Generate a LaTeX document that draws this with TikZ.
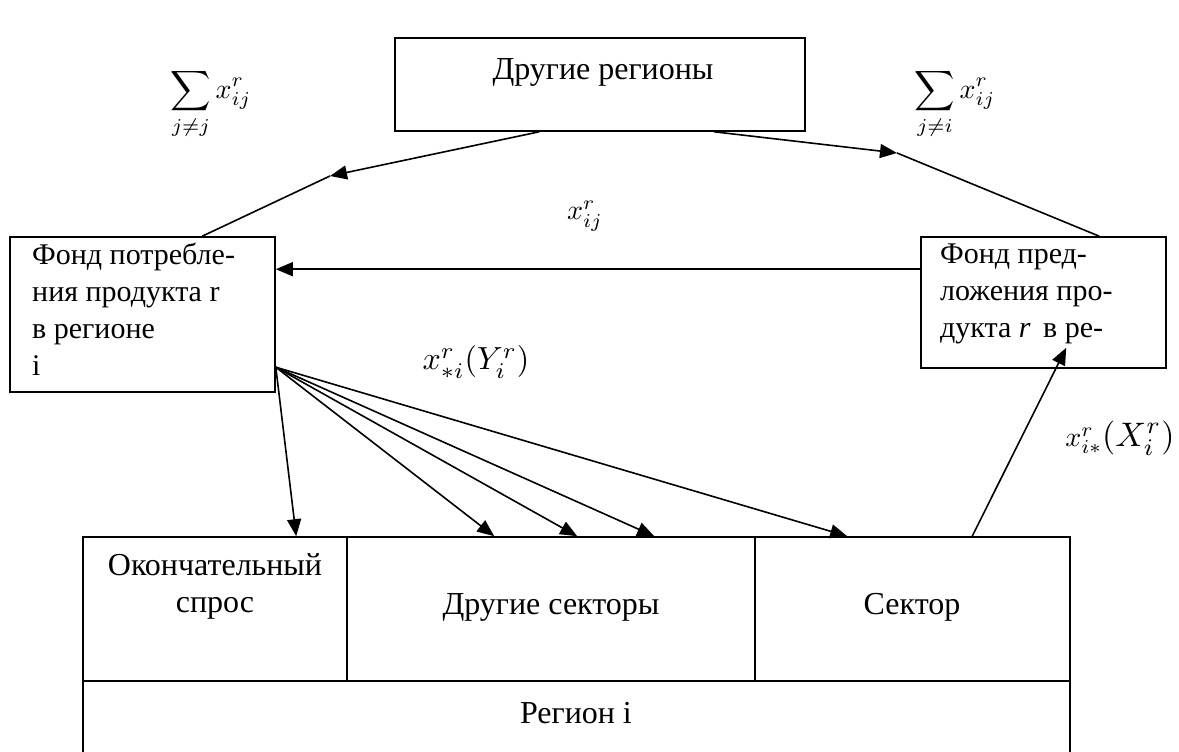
\RequirePackage{fix-cm}
\documentclass[tikz,border=0pt]{standalone}
\usepackage{fontspec}
\setmainfont{Liberation Serif}
\usetikzlibrary{arrows.meta,calc}
\begin{document}
\begin{tikzpicture}[x=1pt,y=-1pt,
  box/.style={draw,line width=1.6pt,inner sep=0pt},
  conn/.style={line width=1.6pt},
  arr/.style={conn,-{Triangle[length=17pt,width=14pt]}},
  txt/.style={font=\fontsize{32}{37}\selectfont,inner sep=0pt},
  sidetxt/.style={font=\fontsize{30}{37}\selectfont,inner sep=0pt,anchor=north west,align=left},
  mth/.style={inner sep=0pt},
]
\useasboundingbox (0,0) rectangle (1179,752);

% boxes
\node[box,minimum width=410pt,minimum height=93pt] (top) at (600,84.5) {};
\node[box,minimum width=265pt,minimum height=155pt] (left) at (142.5,314.5) {};
\node[box,minimum width=245pt,minimum height=131pt] (right) at (1043.5,302.5) {};
\node[box,minimum width=264pt,minimum height=144pt] (final) at (215,609) {};
\node[box,minimum width=408pt,minimum height=144pt] (others) at (551,609) {};
\node[box,minimum width=315pt,minimum height=144pt] (sector) at (912.5,609) {};
\node[box,minimum width=987pt,minimum height=74pt] (region) at (576.5,718) {};

% texts
\node[txt] (ttop) at (603,72) {Другие регионы};
\node[sidetxt] (tleft) at (32,243)
  {Фонд потребле-\\ния продукта r\\в регионе\\i};
\node[sidetxt] (tright) at (940,244)
  {Фонд пред-\\ложения про-\\дукта \textit{r}\, в ре-};
\node[txt,align=center] (tfinal) at (215,586) {Окончательный\\спрос};
\node[txt] (tothers) at (551,607) {Другие секторы};
\node[txt] (tsector) at (912,607) {Сектор};
\node[txt] (tregion) at (576,713) {Регион i};

% labels
\node[mth] (s1) at (211,104) {\scalebox{2.8}{$\displaystyle\sum_{j\neq j} x_{ij}^{r}$}};
\node[mth] (s2) at (955,104) {\scalebox{2.8}{$\displaystyle\sum_{j\neq i} x_{ij}^{r}$}};
\node[mth] (xij) at (585,216) {\scalebox{2.8}{$x_{ij}^{r}$}};
\node[mth] (xs) at (476,362) {\scalebox{3.2}{$x_{*i}^{r}(Y_{i}^{r})$}};
\node[mth] (xi) at (1120,438) {\scalebox{2.8}{$x_{i*}^{r}$}\scalebox{3.4}{$(X_{i}^{r})$}};

% bend points
\coordinate (bendL) at (330,176);
\coordinate (bendR) at (897,153);
\coordinate (fan) at ($(left.north east)+(0,131)$);

% connectors
\draw[arr] ($(top.south west)+(145,0)$) -- (bendL);
\draw[conn] (bendL) -- ($(left.north west)+(193,0)$);
\draw[arr] ($(top.south west)+(320,0)$) -- (bendR);
\draw[conn] (bendR) -- ($(right.north west)+(179,0)$);
\draw[arr] ($(right.north west)+(0,33)$) -- ($(left.north east)+(0,33)$);

\draw[arr] (fan) -- ($(final.north west)+(214,0)$);
\draw[arr] (fan) -- ($(others.north west)+(148,0)$);
\draw[arr] (fan) -- ($(others.north west)+(231,0)$);
\draw[arr] (fan) -- ($(others.north west)+(308,0)$);
\draw[arr] (fan) -- ($(sector.north west)+(93,0)$);

\draw[arr] ($(sector.north west)+(218,0)$) -- ($(right.south west)+(146,-21)$);
\end{tikzpicture}
\end{document}
